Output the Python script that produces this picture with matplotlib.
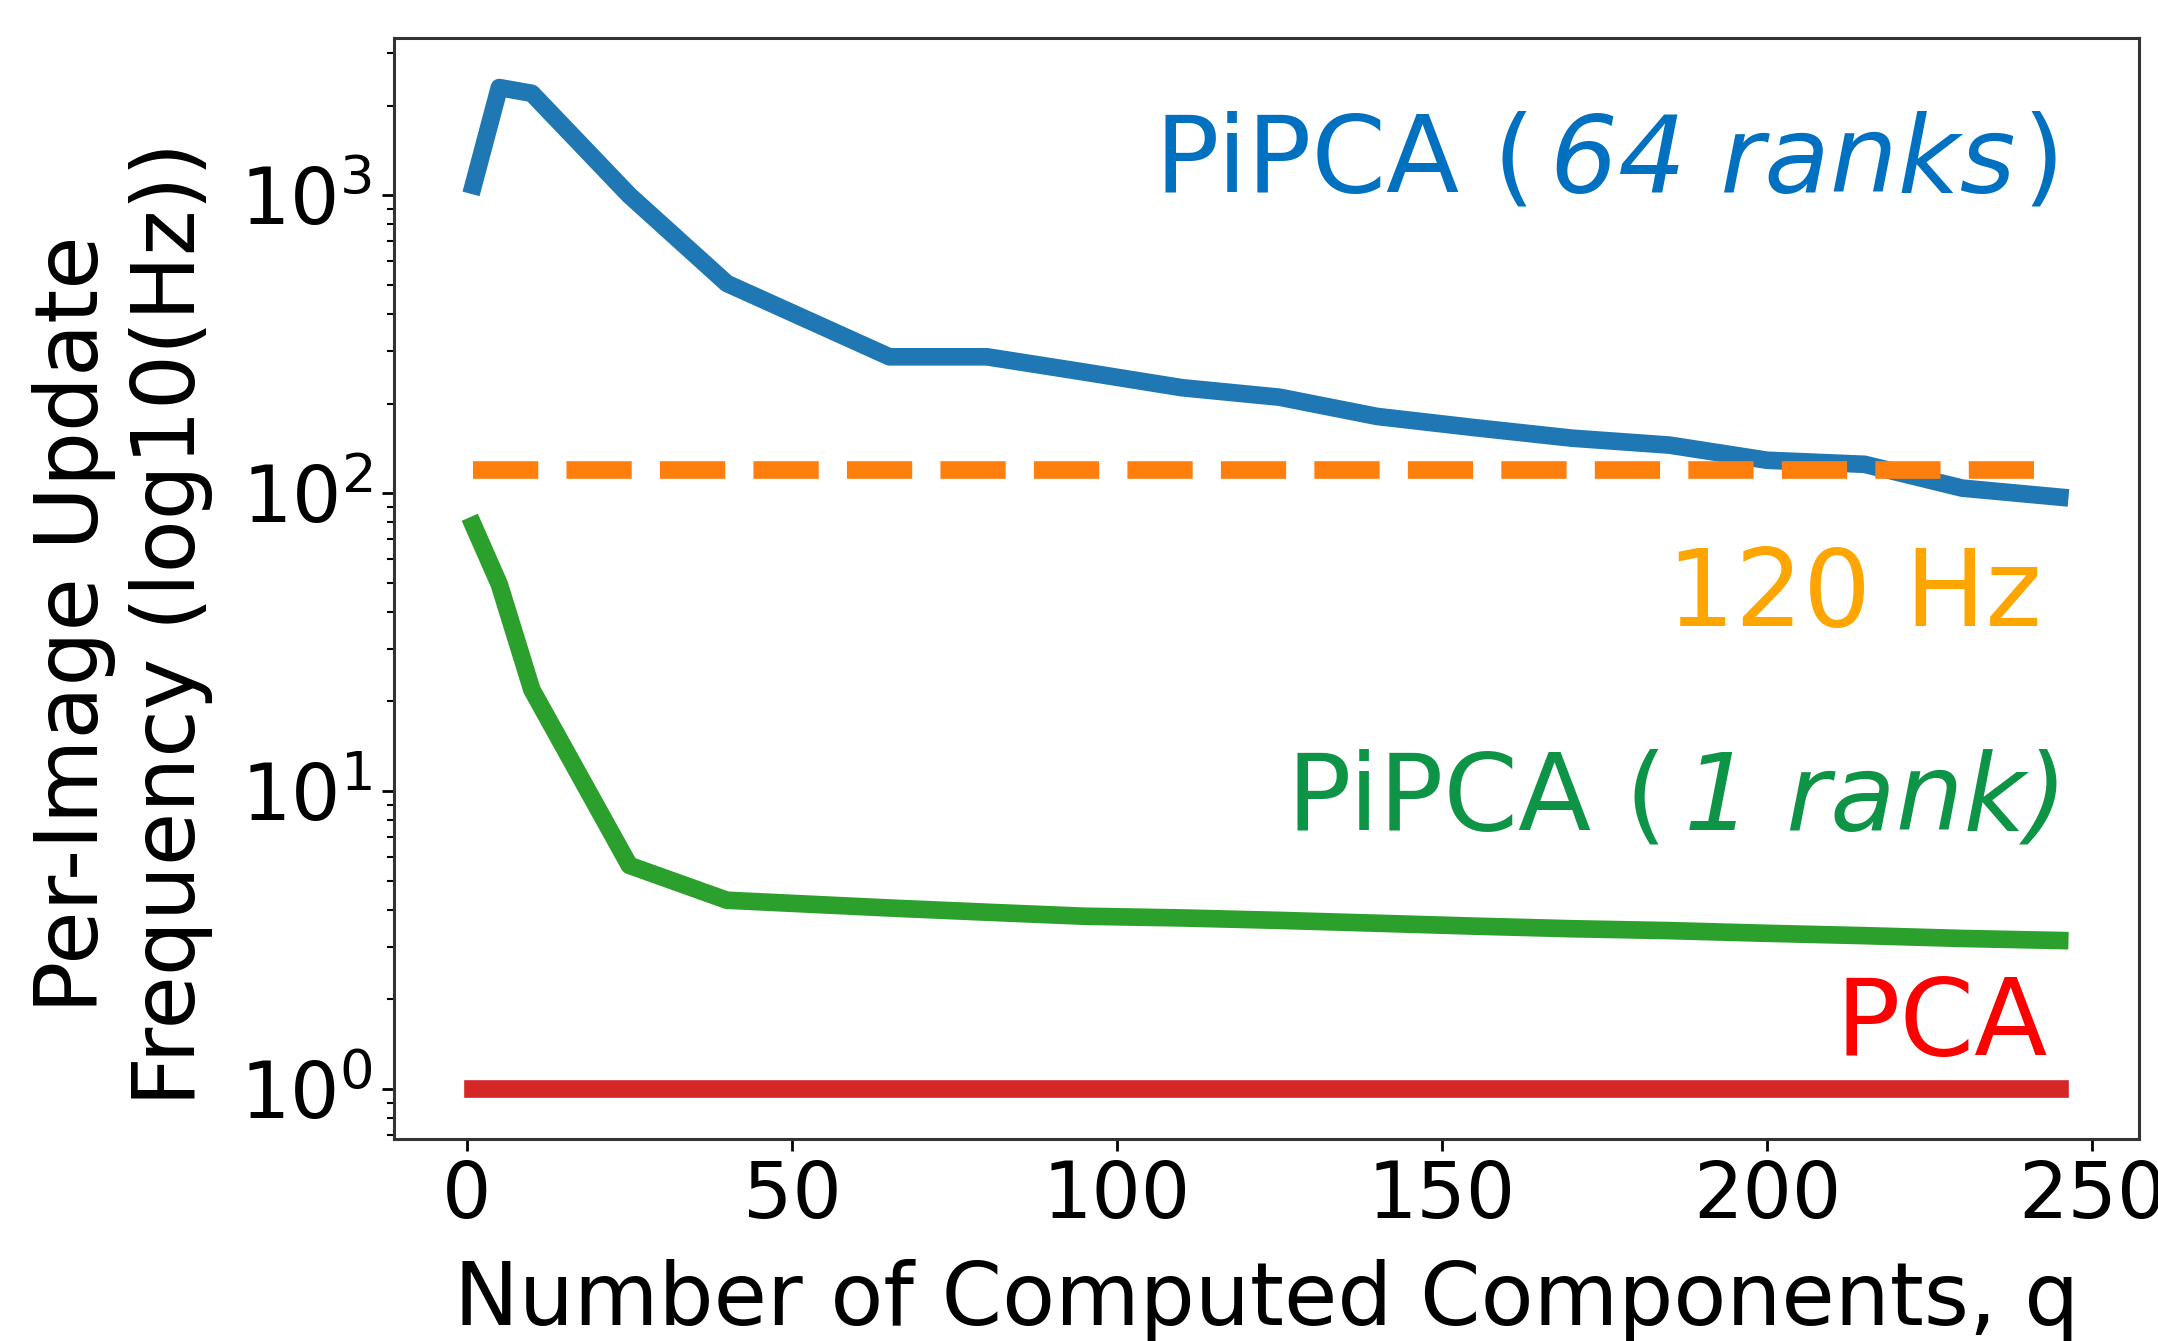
import matplotlib
matplotlib.use("Agg")
import matplotlib.pyplot as plt
from matplotlib.textpath import TextPath
from matplotlib.font_manager import FontProperties

# ---- data ----
q = [1, 5, 10, 25, 40, 65, 80, 95, 110, 125, 140, 155, 170, 185, 200, 215, 230, 245]
pipca_64 = [1080, 2300, 2200, 1000, 506, 287, 287, 255, 226, 210, 181, 166, 153, 145, 129, 125, 104, 97]
pipca_1 = [78, 49.4, 21.9, 5.63, 4.30, 4.05, 3.92, 3.80, 3.75, 3.68, 3.60, 3.52, 3.45, 3.40, 3.33, 3.27, 3.20, 3.15]
target_hz = [120] * len(q)
pca = [1] * len(q)

xlabel = "Number of Computed Components, q"
ylabel = "Per-Image Update\nFrequency (log10(Hz))"

plt.rcParams['font.family'] = ['DejaVu Sans']
plt.rcParams['mathtext.fontset'] = 'dejavusans'

W, H = 2158, 1341
fig = plt.figure(figsize=(W / 100, H / 100), dpi=100)
ax = fig.add_axes([394/W, 1 - 1139/H, (2139-394)/W, (1139-37.5)/H])

lw = 12.7
ax.plot(q, pipca_64, color='#1f77b4', lw=lw)
ax.plot(q, target_hz, color='#ff7f0e', lw=lw, ls='--')
ax.plot(q, pipca_1, color='#2ca02c', lw=lw)
ax.plot(q, pca, color='#d62728', lw=lw)
ax.set_yscale('log')

ax.set_xticks([0, 50, 100, 150, 200, 250])
ax.tick_params(axis='both', which='major', labelsize=56, length=8.6, width=2.0)
ax.tick_params(axis='x', which='major', pad=5)
ax.tick_params(axis='y', which='major', pad=7)
ax.tick_params(axis='y', which='minor', length=4.9, width=1.5)
for s in ax.spines.values():
    s.set_linewidth(2.2)
    s.set_color('#333333')

ax.set_xlabel(xlabel, fontsize=62.5)
ax.set_ylabel(ylabel, fontsize=62.5)
ax.xaxis.set_label_coords(0.5, -0.109)
ax.yaxis.set_label_coords(-0.1037, 0.4675)

fs = 77
fs_px = fs * 100 / 72.0


def ink_left(s, style):
    tp = TextPath((0, 0), s, size=fs_px,
                  prop=FontProperties(family='DejaVu Sans', style=style))
    return tp.get_extents().x0


def composed(parts, baseline_px, color):
    """parts: list of (text, style, ink-left x in figure pixels from left)."""
    for txt, style, xl in parts:
        x0 = xl - ink_left(txt, style)
        fig.text(x0 / W, 1 - baseline_px / H, txt, ha='left', va='baseline',
                 fontsize=fs, color=color, style=style)


composed([("PiPCA (", 'normal', 1165), ("64 ranks", 'italic', 1556.6),
          (")", 'normal', 2031)], 191.7, '#0070c0')
ax.text(0.9444, 0.4657, "120 Hz", transform=ax.transAxes,
        ha='right', va='baseline', fontsize=fs, color='#ffa500')
composed([("PiPCA (", 'normal', 1297), ("1 rank)", 'italic', 1689)],
         829, '#0e9447')
ax.text(0.948, 0.0763, "PCA", transform=ax.transAxes,
        ha='right', va='baseline', fontsize=fs, color='#ff0000')

fig.savefig("out.png", dpi=100)
